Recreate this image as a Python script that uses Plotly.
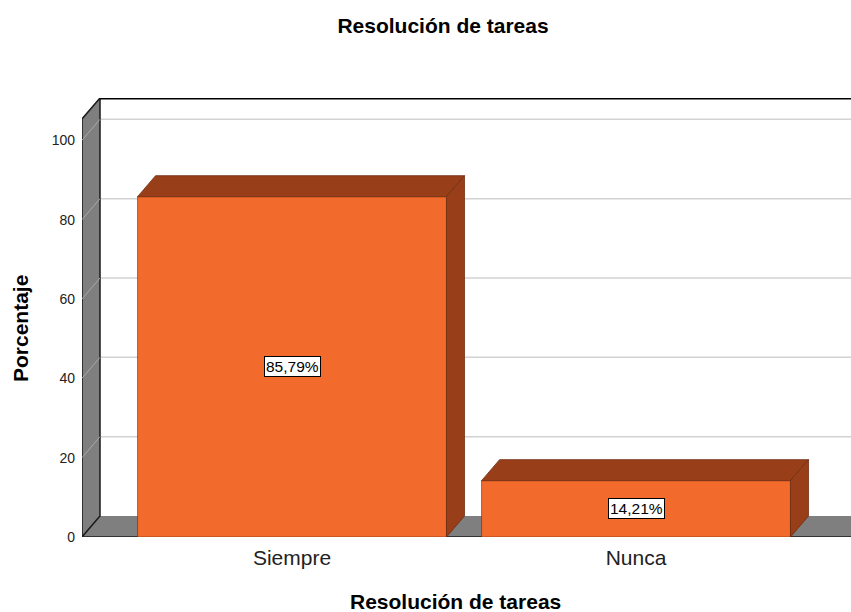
import plotly.graph_objects as go

# ---- data ----
categories = ["Siempre", "Nunca"]
percentages = [85.79, 14.21]
y_ticks = [0, 20, 40, 60, 80, 100]
title_text = "Resolución de tareas"
x_title = "Resolución de tareas"
y_title = "Porcentaje"

# ---- style / geometry ----
FRONT = "#F26A2C"
DARK = "#983F19"
EDGE = "#6E2C10"
WALL = "#7F7F7F"
GRID = "#D2D2D2"

W, H = 851, 612
ML, MT, MR, MB = 82, 98, 0, 75
PW, PH = W - ML - MR, H - MT - MB

PX_PER_CAT = 344.0
XMIN = -0.6105
XMAX = XMIN + PW / PX_PER_CAT
YMAX = 110.66
WALL_TOP = 105.37
DX, DY = 18 / PX_PER_CAT, 5.29
BW = 0.898

xs = list(range(len(categories)))

fig = go.Figure()

# front faces
fig.add_trace(go.Bar(
    x=xs, y=percentages, width=BW,
    marker=dict(color=FRONT, line=dict(color=EDGE, width=0.6)),
    hoverinfo="skip", showlegend=False,
))

# top and side faces
for x, v in zip(xs, percentages):
    l, r = x - BW / 2, x + BW / 2
    fig.add_trace(go.Scatter(
        x=[l, r, r + DX, l + DX, l], y=[v, v, v + DY, v + DY, v],
        fill="toself", fillcolor=DARK, mode="lines",
        line=dict(color=EDGE, width=0.8), hoverinfo="skip", showlegend=False,
    ))
    fig.add_trace(go.Scatter(
        x=[r, r + DX, r + DX, r, r], y=[0, DY, v + DY, v, 0],
        fill="toself", fillcolor=DARK, mode="lines",
        line=dict(color=EDGE, width=0.8), hoverinfo="skip", showlegend=False,
    ))

shapes = []
# back wall gridlines
for t in y_ticks[1:]:
    shapes.append(dict(type="line", xref="x", yref="y", layer="below",
                       x0=XMIN + DX, x1=XMAX, y0=t + DY, y1=t + DY,
                       line=dict(color=GRID, width=1.5)))
# floor
shapes.append(dict(type="path", xref="x", yref="y", layer="below",
                   path=f"M {XMIN},0 L {XMAX},0 L {XMAX},{DY} L {XMIN + DX},{DY} Z",
                   fillcolor=WALL, line=dict(width=0)))
shapes.append(dict(type="line", xref="x", yref="y", layer="below",
                   x0=XMIN, y0=0, x1=XMIN + DX, y1=DY,
                   line=dict(color="#A8A8A8", width=1)))
# side wall
shapes.append(dict(type="path", xref="x", yref="y", layer="below",
                   path=f"M {XMIN},0 L {XMIN},{WALL_TOP} L {XMIN + DX},{WALL_TOP + DY} L {XMIN + DX},{DY} Z",
                   fillcolor=WALL, line=dict(color="#1A1A1A", width=1.5)))
for t in y_ticks[1:]:
    shapes.append(dict(type="line", xref="x", yref="y", layer="below",
                       x0=XMIN, y0=t, x1=XMIN + DX, y1=t + DY,
                       line=dict(color="#A8A8A8", width=1)))
# top edge of back wall
shapes.append(dict(type="line", xref="x", yref="y", layer="below",
                   x0=XMIN + DX, x1=XMAX, y0=WALL_TOP + DY - 0.15, y1=WALL_TOP + DY - 0.15,
                   line=dict(color="#000000", width=2)))
# front floor edge
shapes.append(dict(type="line", xref="x", yref="y", layer="below",
                   x0=XMIN, x1=XMAX, y0=0, y1=0,
                   line=dict(color="#1A1A1A", width=1.5)))

annotations = []
for x, v in zip(xs, percentages):
    annotations.append(dict(
        x=x, y=v / 2, xref="x", yref="y", showarrow=False,
        text=f"{v:.2f}%".replace(".", ","),
        font=dict(family="Liberation Sans, Arial", size=15.5, color="#000"),
        bgcolor="#FFFFFF", bordercolor="#000000", borderwidth=1, borderpad=1,
    ))

# axis titles as positioned text (figure coords -> paper coords)
annotations.append(dict(
    x=(455 - ML) / PW, y=(MT + PH - 601) / PH, xref="paper", yref="paper",
    text=f"<b>{x_title}</b>", showarrow=False, xanchor="center", yanchor="middle",
    font=dict(size=21),
))
annotations.append(dict(
    x=(20 - ML) / PW, y=(MT + PH - 329) / PH, xref="paper", yref="paper",
    text=f"<b>{y_title}</b>", showarrow=False, xanchor="center", yanchor="middle",
    textangle=-90, font=dict(size=21),
))

fig.update_layout(
    width=W, height=H,
    margin=dict(l=ML, r=MR, t=MT, b=MB, autoexpand=False),
    paper_bgcolor="#FFFFFF", plot_bgcolor="#FFFFFF",
    font=dict(family="Liberation Sans, Arial", color="#000"),
    title=dict(text=f"<b>{title_text}</b>", x=443 / W, xanchor="center",
               xref="container", yref="container", y=1 - 26 / H, yanchor="middle",
               font=dict(size=21), automargin=False),
    shapes=shapes, annotations=annotations,
    xaxis=dict(range=[XMIN, XMAX], tickvals=xs, ticktext=categories,
               showgrid=False, zeroline=False, showline=False, ticks="",
               tickfont=dict(size=21, color="#222"), ticklabelstandoff=6,
               automargin=False, fixedrange=True),
    yaxis=dict(range=[0, YMAX], tickvals=y_ticks, showgrid=False, zeroline=False,
               showline=False, ticks="", tickfont=dict(size=14, color="#222"),
               ticklabelstandoff=6, automargin=False, fixedrange=True),
)

fig.write_html("out.html", config={"displayModeBar": False},
               post_script="document.body.style.margin='0';document.body.style.overflow='hidden';")
